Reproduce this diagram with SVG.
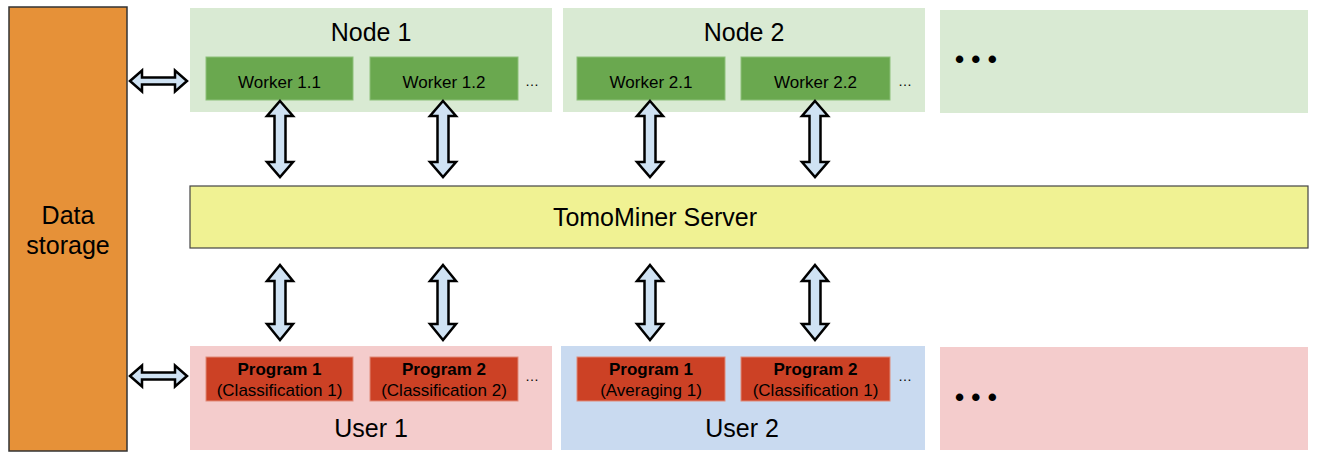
<svg xmlns="http://www.w3.org/2000/svg" width="1317" height="454" viewBox="0 0 1317 454">
<style>
text{font-family:"Liberation Sans",Arial,sans-serif;fill:#000;text-anchor:middle}
.big{font-size:25px}
.wk{font-size:17px}
.pg{font-size:17px}
.pb{font-size:17px;font-weight:bold}
.node{fill:#D9EAD3}
.worker{fill:#6AA84F;stroke:#8DC07A;stroke-width:1}
.prog{fill:#CC4125;stroke:#E08A78;stroke-width:1}
.arrow{fill:#CFE2F3;stroke:#000;stroke-width:2.5;stroke-linejoin:miter}
.dots{font-size:26px;font-weight:bold;text-anchor:start}
.sm{font-size:14px}
</style>
<rect width="1317" height="454" fill="#fff"/>
<g id="storage">
<rect x="9" y="7" width="118" height="444" fill="#E69138" stroke="#333" stroke-width="1.5"/>
<text class="big" x="68" y="224">Data</text>
<text class="big" x="68" y="254">storage</text>
</g>
<g id="node1">
<rect class="node" x="190" y="8" width="362" height="104"/>
<text class="big" x="371" y="41">Node 1</text>
<rect class="worker" x="206" y="57" width="147" height="43"/>
<text class="wk" x="279.5" y="88">Worker 1.1</text>
<rect class="worker" x="370" y="57" width="148" height="43"/>
<text class="wk" x="444" y="88">Worker 1.2</text>
<text class="sm" x="532" y="86">…</text>
</g>
<g id="node2">
<rect class="node" x="563" y="8" width="362" height="104"/>
<text class="big" x="744" y="41">Node 2</text>
<rect class="worker" x="577" y="57" width="148" height="43"/>
<text class="wk" x="651" y="88">Worker 2.1</text>
<rect class="worker" x="741" y="57" width="149" height="43"/>
<text class="wk" x="815.5" y="88">Worker 2.2</text>
<text class="sm" x="905" y="86">…</text>
</g>
<g id="node3">
<rect class="node" x="940" y="10" width="368" height="103"/>
<text class="dots" x="955" y="68">• • •</text>
</g>
<g id="server">
<rect x="190" y="186" width="1118" height="62" fill="#F0F293" stroke="#444" stroke-width="1.2"/>
<text class="big" x="655" y="226">TomoMiner Server</text>
</g>
<g id="user1">
<rect x="190" y="346" width="362" height="104" fill="#F4CCCC"/>
<rect class="prog" x="206" y="357" width="147" height="44"/>
<text class="pb" x="279.5" y="375">Program 1</text>
<text class="pg" x="279.5" y="396">(Classification 1)</text>
<rect class="prog" x="370" y="357" width="148" height="44"/>
<text class="pb" x="444" y="375">Program 2</text>
<text class="pg" x="444" y="396">(Classification 2)</text>
<text class="sm" x="532" y="381">…</text>
<text class="big" x="371" y="437">User 1</text>
</g>
<g id="user2">
<rect x="561" y="346" width="364" height="104" fill="#C9DAF0"/>
<rect class="prog" x="577" y="357" width="148" height="44"/>
<text class="pb" x="651" y="375">Program 1</text>
<text class="pg" x="651" y="396">(Averaging 1)</text>
<rect class="prog" x="741" y="357" width="149" height="44"/>
<text class="pb" x="815.5" y="375">Program 2</text>
<text class="pg" x="815.5" y="396">(Classification  1)</text>
<text class="sm" x="905" y="381">…</text>
<text class="big" x="742" y="437">User 2</text>
</g>
<g id="user3">
<rect x="940" y="347" width="368" height="103" fill="#F4CCCC"/>
<text class="dots" x="955" y="406">• • •</text>
</g>
<g id="connectors">
<path class="arrow" d="M130,81 L142,70.5 L142,77.5 L175,77.5 L175,70.5 L187,81 L175,91.5 L175,84.5 L142,84.5 L142,91.5 Z"/>
<path class="arrow" d="M130,376 L142,365.5 L142,372.5 L175,372.5 L175,365.5 L187,376 L175,386.5 L175,379.5 L142,379.5 L142,386.5 Z"/>
<path class="arrow" d="M280,101 L293,116 L285.5,116 L285.5,162 L293,162 L280,177 L267,162 L274.5,162 L274.5,116 L267,116 Z"/>
<path class="arrow" d="M443,101 L456,116 L448.5,116 L448.5,162 L456,162 L443,177 L430,162 L437.5,162 L437.5,116 L430,116 Z"/>
<path class="arrow" d="M650,101 L663,116 L655.5,116 L655.5,162 L663,162 L650,177 L637,162 L644.5,162 L644.5,116 L637,116 Z"/>
<path class="arrow" d="M815,101 L828,116 L820.5,116 L820.5,162 L828,162 L815,177 L802,162 L809.5,162 L809.5,116 L802,116 Z"/>
<path class="arrow" d="M280,265 L293,281 L285.5,281 L285.5,324 L293,324 L280,340 L267,324 L274.5,324 L274.5,281 L267,281 Z"/>
<path class="arrow" d="M443,265 L456,281 L448.5,281 L448.5,324 L456,324 L443,340 L430,324 L437.5,324 L437.5,281 L430,281 Z"/>
<path class="arrow" d="M650,265 L663,281 L655.5,281 L655.5,324 L663,324 L650,340 L637,324 L644.5,324 L644.5,281 L637,281 Z"/>
<path class="arrow" d="M815,265 L828,281 L820.5,281 L820.5,324 L828,324 L815,340 L802,324 L809.5,324 L809.5,281 L802,281 Z"/>
</g>
</svg>
